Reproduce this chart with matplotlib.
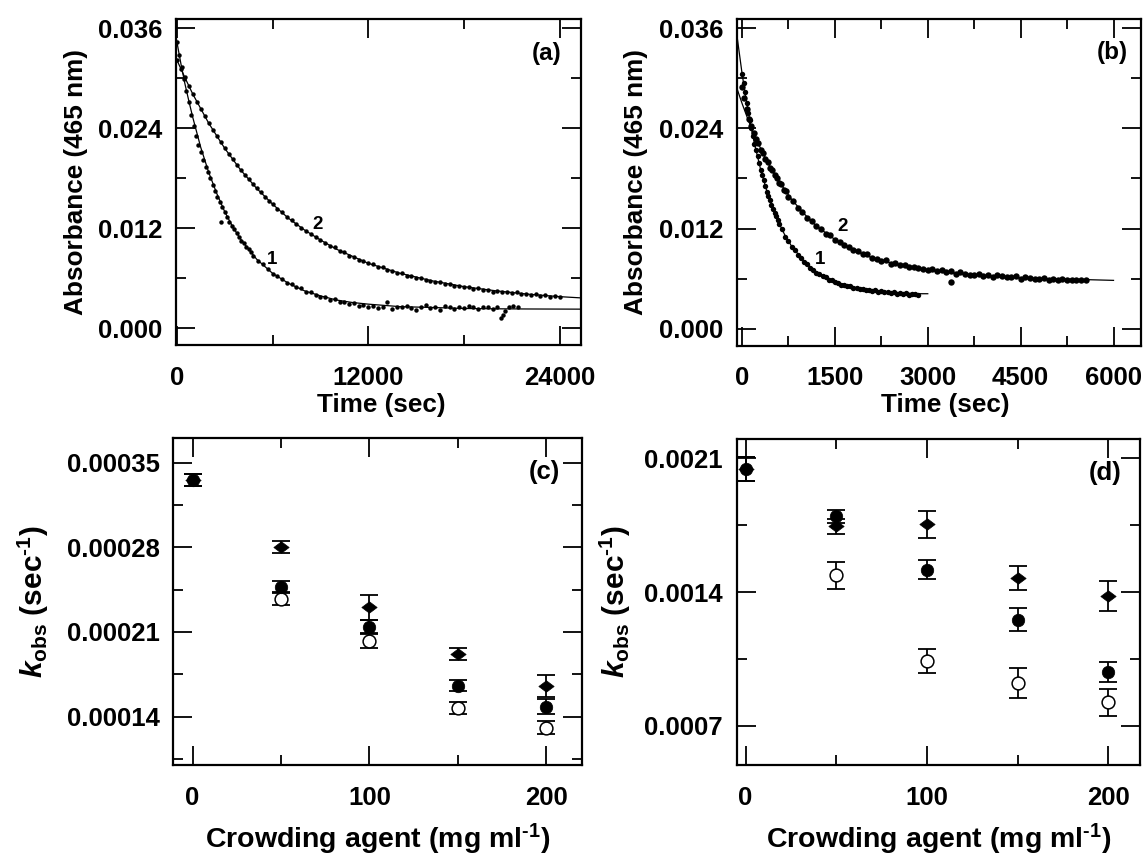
import numpy as np
import matplotlib
matplotlib.use("Agg")
import matplotlib.pyplot as plt
from matplotlib.ticker import FixedLocator, FixedFormatter
from matplotlib.path import Path

# ---------------- data ----------------
# Panel (a): absorbance decay traces (time s, absorbance) and fitted curves
a1_points = [(0, 0.0343), (150, 0.0328), (300, 0.0313), (450, 0.0299), (600, 0.0285),
             (750, 0.0271), (900, 0.0256), (1050, 0.0243), (1200, 0.0231), (1350, 0.0220),
             (1500, 0.0212), (1650, 0.0202), (1800, 0.0194), (1950, 0.0187), (2100, 0.0180),
             (2250, 0.0172), (2400, 0.0165), (2550, 0.0158), (2700, 0.0151), (2800, 0.0127),
             (2850, 0.0145), (3000, 0.0139), (3150, 0.0134), (3300, 0.0128), (3450, 0.0123),
             (3600, 0.0119), (3750, 0.0114), (3900, 0.0110), (4050, 0.0105), (4200, 0.0102),
             (4350, 0.0098), (4500, 0.0095), (4650, 0.0091), (4800, 0.0087), (5100, 0.0081),
             (5400, 0.0077), (5700, 0.0071), (6000, 0.0065), (6300, 0.0063), (6600, 0.0059),
             (6900, 0.0054), (7200, 0.0053), (7500, 0.0049), (7800, 0.0048), (8100, 0.0044),
             (8400, 0.0044), (8700, 0.0040), (9000, 0.0038), (9300, 0.0037), (9600, 0.0034),
             (9900, 0.0035), (10200, 0.0031), (10500, 0.0032), (10800, 0.0029), (11100, 0.0030),
             (11400, 0.0027), (11700, 0.0028), (12000, 0.0025), (12300, 0.0027), (12600, 0.0024),
             (12900, 0.0026), (13200, 0.0032), (13500, 0.0023), (13800, 0.0026), (14100, 0.0025),
             (14400, 0.0027), (14700, 0.0024), (15000, 0.0022), (15300, 0.0026), (15600, 0.0028),
             (15900, 0.0024), (16200, 0.0025), (16500, 0.0022), (16800, 0.0027), (17100, 0.0025),
             (17400, 0.0023), (17700, 0.0026), (18000, 0.0024), (18300, 0.0027), (18600, 0.0025),
             (18900, 0.0023), (19200, 0.0026), (19500, 0.0025), (19800, 0.0023), (20100, 0.0026),
             (20300, 0.0012), (20450, 0.0016), (20600, 0.0021), (20800, 0.0025), (21100, 0.0027),
             (21400, 0.0026)]
a2_points = [(0, 0.0322), (250, 0.0311), (500, 0.0301), (750, 0.0291), (1000, 0.0281),
             (1250, 0.0272), (1500, 0.0263), (1750, 0.0255), (2000, 0.0246), (2250, 0.0238),
             (2500, 0.0231), (2750, 0.0223), (3000, 0.0216), (3250, 0.0209), (3500, 0.0203),
             (3750, 0.0196), (4000, 0.0190), (4250, 0.0184), (4500, 0.0179), (4750, 0.0173),
             (5000, 0.0168), (5250, 0.0163), (5500, 0.0158), (5750, 0.0153), (6000, 0.0149),
             (6300, 0.0143), (6600, 0.0139), (6900, 0.0133), (7200, 0.0130), (7500, 0.0125),
             (7800, 0.0120), (8100, 0.0117), (8400, 0.0113), (8700, 0.0109), (9000, 0.0106),
             (9300, 0.0102), (9600, 0.0099), (9900, 0.0097), (10200, 0.0093), (10500, 0.0091),
             (10800, 0.0087), (11100, 0.0086), (11400, 0.0082), (11700, 0.0081), (12000, 0.0078),
             (12300, 0.0077), (12600, 0.0074), (12900, 0.0073), (13200, 0.0070), (13500, 0.0069),
             (13800, 0.0066), (14100, 0.0066), (14400, 0.0063), (14700, 0.0063), (15000, 0.0060),
             (15300, 0.0060), (15600, 0.0058), (15900, 0.0057), (16200, 0.0055), (16500, 0.0055),
             (16800, 0.0053), (17100, 0.0053), (17400, 0.0051), (17700, 0.0051), (18000, 0.0049),
             (18300, 0.0049), (18600, 0.0047), (18900, 0.0048), (19200, 0.0046), (19500, 0.0046),
             (19800, 0.0044), (20100, 0.0045), (20400, 0.0043), (20700, 0.0044), (21000, 0.0042),
             (21300, 0.0043), (21600, 0.0041), (21900, 0.0041), (22200, 0.0040), (22500, 0.0041),
             (22800, 0.0039), (23100, 0.0040), (23400, 0.0038), (23700, 0.0039), (24000, 0.0038)]
a1_fit = [(-70, 0.0352), (0, 0.0344), (250, 0.0318), (500, 0.0294), (750, 0.0273),
          (1000, 0.0253), (1500, 0.0217), (2000, 0.0187), (2500, 0.0162), (3000, 0.0140),
          (3500, 0.0122), (4000, 0.0107), (5000, 0.0083), (6000, 0.0066), (7000, 0.0054),
          (8000, 0.0045), (9000, 0.0039), (10000, 0.0034), (11000, 0.0031), (12000, 0.0029),
          (14000, 0.0026), (16000, 0.0025), (18000, 0.00238), (20000, 0.00234),
          (22000, 0.00232), (25340, 0.0023)]
a2_fit = [(-70, 0.0325), (0, 0.0322), (500, 0.0301), (1000, 0.0281), (2000, 0.0246),
          (3000, 0.0216), (4000, 0.0190), (5000, 0.0168), (6000, 0.0149), (7000, 0.0132),
          (8000, 0.0118), (9000, 0.0106), (10000, 0.0095), (12000, 0.0078), (14000, 0.0066),
          (16000, 0.0057), (18000, 0.0050), (20000, 0.0045), (22000, 0.0041), (24000, 0.0038),
          (25340, 0.00365)]

# Panel (b): faster traces
b1_points = [(0, 0.0305), (25, 0.0294), (50, 0.0283), (75, 0.0271), (100, 0.0259),
             (125, 0.0250), (150, 0.0241), (175, 0.0231), (200, 0.0221), (225, 0.0214),
             (250, 0.0207), (275, 0.0199), (300, 0.0190), (325, 0.0184), (350, 0.0178),
             (375, 0.0171), (400, 0.0164), (425, 0.0159), (450, 0.0154), (475, 0.0148),
             (500, 0.0143), (525, 0.0139), (550, 0.0135), (575, 0.0130), (600, 0.0125),
             (650, 0.0119), (700, 0.0110), (750, 0.0105), (800, 0.0098), (850, 0.0094),
             (900, 0.0088), (950, 0.0085), (1000, 0.0080), (1050, 0.0078), (1100, 0.0073),
             (1150, 0.0071), (1200, 0.0067), (1250, 0.0066), (1300, 0.0063), (1350, 0.0062),
             (1400, 0.0059), (1450, 0.0058), (1500, 0.0056), (1550, 0.0055), (1600, 0.0053),
             (1650, 0.0053), (1700, 0.0051), (1750, 0.0051), (1800, 0.0049), (1850, 0.0049),
             (1900, 0.0048), (1950, 0.0048), (2000, 0.0046), (2050, 0.0047), (2100, 0.0045),
             (2150, 0.0046), (2200, 0.0044), (2250, 0.0045), (2300, 0.0044), (2350, 0.0044),
             (2400, 0.0043), (2450, 0.0044), (2500, 0.0042), (2550, 0.0043), (2600, 0.0042),
             (2650, 0.0043), (2700, 0.0041), (2750, 0.0042), (2800, 0.0042), (2850, 0.0041)]
b2_points = [(0, 0.0290), (37, 0.0276), (75, 0.0263), (112, 0.0251), (150, 0.0243),
             (187, 0.0235), (225, 0.0227), (262, 0.0222), (300, 0.0214), (337, 0.0211),
             (375, 0.0203), (412, 0.0200), (450, 0.0193), (487, 0.0190), (525, 0.0184),
             (562, 0.0181), (600, 0.0175), (637, 0.0173), (675, 0.0166), (712, 0.0165),
             (750, 0.0158), (825, 0.0153), (900, 0.0145), (975, 0.0140), (1050, 0.0133),
             (1125, 0.0129), (1200, 0.0123), (1275, 0.0120), (1350, 0.0114), (1425, 0.0112),
             (1500, 0.0106), (1575, 0.0104), (1650, 0.0100), (1725, 0.0098), (1800, 0.0094),
             (1875, 0.0093), (1950, 0.0089), (2025, 0.0089), (2100, 0.0085), (2175, 0.0084),
             (2250, 0.0081), (2325, 0.0082), (2400, 0.0078), (2475, 0.0079), (2550, 0.0076),
             (2625, 0.0077), (2700, 0.0074), (2775, 0.0074), (2850, 0.0073), (2925, 0.0072),
             (3000, 0.0071), (3075, 0.0072), (3150, 0.0069), (3225, 0.0071), (3300, 0.0068),
             (3368, 0.0056), (3375, 0.0069), (3450, 0.0066), (3525, 0.0068), (3600, 0.0066),
             (3675, 0.0065), (3750, 0.0065), (3825, 0.0066), (3900, 0.0063), (3975, 0.0065),
             (4050, 0.0062), (4125, 0.0064), (4200, 0.0063), (4275, 0.0062), (4350, 0.0062),
             (4425, 0.0063), (4500, 0.0060), (4575, 0.0062), (4650, 0.0061), (4725, 0.0060),
             (4800, 0.0060), (4875, 0.0061), (4950, 0.0059), (5025, 0.0060), (5100, 0.0059),
             (5175, 0.0060), (5250, 0.0058), (5325, 0.0059), (5400, 0.0058), (5475, 0.0059),
             (5550, 0.0058)]
b1_fit = [(-78, 0.0349), (0, 0.0306), (50, 0.0282), (100, 0.0260), (150, 0.0240),
          (200, 0.0222), (300, 0.0191), (400, 0.0165), (500, 0.0144), (600, 0.0126),
          (700, 0.0111), (800, 0.0099), (1000, 0.0081), (1200, 0.0068), (1400, 0.0060),
          (1600, 0.0054), (1800, 0.0050), (2000, 0.0047), (2200, 0.0045), (2400, 0.0044),
          (2600, 0.0043), (2800, 0.0042), (3000, 0.0042)]
b2_fit = [(-78, 0.0287), (0, 0.0270), (100, 0.0250), (200, 0.0232), (300, 0.0216),
          (400, 0.0201), (500, 0.0188), (600, 0.0176), (800, 0.0155), (1000, 0.0138),
          (1200, 0.0123), (1500, 0.0107), (1800, 0.0094), (2100, 0.0085), (2500, 0.0077),
          (3000, 0.0070), (3500, 0.0066), (4000, 0.0063), (4500, 0.0061), (5000, 0.0060),
          (5500, 0.0059), (6000, 0.0058)]

# Panels (c) and (d): rate constants versus crowding agent concentration
crowd = [0, 50, 100, 150, 200]
crowd_open = [50, 100, 150, 200]

c_diamond = [0.0003357, 0.000280, 0.0002304, 0.0001915, 0.0001651]
c_diamond_err = [4.8e-6, 4.8e-6, 1.05e-5, 4.8e-6, 9.3e-6]
c_filled = [0.0003357, 0.0002475, 0.0002139, 0.0001656, 0.0001483]
c_filled_err = [4.8e-6, 4.5e-6, 6.0e-6, 4.8e-6, 6.2e-6]
c_open = [0.0002373, 0.0002028, 0.0001472, 0.0001309]
c_open_err = [4.8e-6, 6.0e-6, 4.8e-6, 5.1e-6]

d_diamond = [0.002043, 0.001743, 0.001755, 0.001473, 0.001378]
d_diamond_err = [0.0000636, 0.000040, 0.0000705, 0.000061, 0.0000792]
d_filled = [0.002043, 0.001795, 0.001517, 0.001256, 0.000982]
d_filled_err = [0.0000636, 0.0000348, 0.0000496, 0.000060, 0.0000505]
d_open = [0.001487, 0.001038, 0.000925, 0.000824]
d_open_err = [0.0000705, 0.0000618, 0.0000792, 0.0000714]

# Tick positions and labels
a_yticks = [0.0, 0.012, 0.024, 0.036]
a_yticklabels = ["0.000", "0.012", "0.024", "0.036"]
a_yminor = [0.006, 0.018, 0.030]
a_xticks = [0, 12000, 24000]
a_xticklabels = ["0", "12000", "24000"]
a_xminor = [6000, 18000]
b_xticks = [0, 1500, 3000, 4500, 6000]
b_xticklabels = ["0", "1500", "3000", "4500", "6000"]
b_xminor = [750, 2250, 3750, 5250]
c_yticks = [0.00014, 0.00021, 0.00028, 0.00035]
c_yticklabels = ["0.00014", "0.00021", "0.00028", "0.00035"]
c_yminor = [0.000105, 0.000175, 0.000245, 0.000315]
d_yticks = [0.0007, 0.0014, 0.0021]
d_yticklabels = ["0.0007", "0.0014", "0.0021"]
d_yminor = [0.00105, 0.00175]
cd_xticks = [0, 100, 200]
cd_xticklabels = ["0", "100", "200"]
cd_xminor = [50, 150]

# ---------------- style ----------------
plt.rcParams['font.family'] = ['Liberation Sans', 'DejaVu Sans']
plt.rcParams['font.weight'] = 'bold'
plt.rcParams['mathtext.fontset'] = 'custom'
plt.rcParams['mathtext.rm'] = 'Liberation Sans:bold'
plt.rcParams['mathtext.it'] = 'Liberation Sans:bold:italic'
plt.rcParams['mathtext.bf'] = 'Liberation Sans:bold'

W, H = 1144, 856
fig = plt.figure(figsize=(W / 100, H / 100), dpi=100)


def px_axes(left, right, top, bottom):
    return fig.add_axes([left / W, 1 - bottom / H, (right - left) / W, (bottom - top) / H])


def frame(ax, xlim, ylim, xt, xtl, xm, yt, ytl, ym):
    ax.set_xlim(*xlim)
    ax.set_ylim(*ylim)
    ax.xaxis.set_major_locator(FixedLocator(xt))
    ax.xaxis.set_major_formatter(FixedFormatter(xtl))
    ax.xaxis.set_minor_locator(FixedLocator(xm))
    ax.yaxis.set_major_locator(FixedLocator(yt))
    ax.yaxis.set_major_formatter(FixedFormatter(ytl))
    ax.yaxis.set_minor_locator(FixedLocator(ym))
    ax.tick_params(which='both', direction='in', top=True, right=True,
                   width=1.3, color='black')
    ax.tick_params(which='major', length=14)
    ax.tick_params(which='minor', length=7)
    ax.tick_params(axis='x', which='major', pad=15, labelsize=18.5)
    ax.tick_params(axis='y', which='major', pad=9.8, labelsize=18.5)
    for s in ax.spines.values():
        s.set_linewidth(1.6)


def fig_text(x, y, s, **kw):
    fig.text(x / W, 1 - y / H, s, **kw)


def unzip(points):
    return [p[0] for p in points], [p[1] for p in points]


diamond = Path([(-1, 0), (0, 0.75), (1, 0), (0, -0.75), (-1, 0)],
               [Path.MOVETO, Path.LINETO, Path.LINETO, Path.LINETO, Path.CLOSEPOLY])

# ---------------- panel (a) ----------------
ax_a = px_axes(175.7, 581, 19, 345)
for fit in (a1_fit, a2_fit):
    t, A = unzip(fit)
    ax_a.plot(t, A, color='black', lw=0.9)
for pts in (a1_points, a2_points):
    t, A = unzip(pts)
    ax_a.plot(t, A, 'o', color='black', ms=3.2, mew=0)
frame(ax_a, (-70, 25340), (-0.002, 0.0371), a_xticks, a_xticklabels, a_xminor,
      a_yticks, a_yticklabels, a_yminor)
ax_a.text(8810, 0.0124, "2", fontsize=13.5, ha='center', va='center')
ax_a.text(5966, 0.00828, "1", fontsize=13.5, ha='center', va='center')
ax_a.text(0.953, 0.893, "(a)", transform=ax_a.transAxes, ha='right', va='center', fontsize=17.5)

# ---------------- panel (b) ----------------
ax_b = px_axes(737.2, 1141, 19, 345.5)
for fit in (b1_fit, b2_fit):
    t, A = unzip(fit)
    ax_b.plot(t, A, color='black', lw=0.9)
t, A = unzip(b1_points)
ax_b.plot(t, A, 'o', color='black', ms=3.9, mew=0)
t, A = unzip(b2_points)
ax_b.plot(t, A, 'o', color='black', ms=4.6, mew=0)
frame(ax_b, (-78, 6444), (-0.002, 0.0371), b_xticks, b_xticklabels, b_xminor,
      a_yticks, a_yticklabels, a_yminor)
ax_b.text(1624, 0.0122, "2", fontsize=13.5, ha='center', va='center')
ax_b.text(1264, 0.00828, "1", fontsize=13.5, ha='center', va='center')
ax_b.text(0.968, 0.897, "(b)", transform=ax_b.transAxes, ha='right', va='center', fontsize=17.5)


def rate_panel(ax, dia, dia_e, fil, fil_e, opn, opn_e):
    eb = dict(fmt='none', ecolor='black', elinewidth=1.3, capsize=6.8, capthick=1.3, zorder=2)
    ax.errorbar(crowd_open, opn, yerr=opn_e, **eb)
    ax.errorbar(crowd, dia, yerr=dia_e, **eb)
    ax.errorbar(crowd, fil, yerr=fil_e, **eb)
    ax.plot(crowd_open, opn, 'o', ms=9.2, mfc='white', mec='black', mew=1.1, zorder=3)
    ax.plot(crowd, dia, marker=diamond, ls='none', ms=11, mfc='black', mec='black',
            mew=0.5, zorder=4)
    ax.plot(crowd, fil, 'o', ms=9.0, mfc='black', mec='black', mew=0.5, zorder=5)


# ---------------- panel (c) ----------------
ax_c = px_axes(173.3, 582, 438.3, 765)
rate_panel(ax_c, c_diamond, c_diamond_err, c_filled, c_filled_err, c_open, c_open_err)
frame(ax_c, (-10.9, 220.2), (0.0001, 0.00037), cd_xticks, cd_xticklabels, cd_xminor,
      c_yticks, c_yticklabels, c_yminor)
ax_c.text(0.946, 0.898, "(c)", transform=ax_c.transAxes, ha='right', va='center', fontsize=18.5)

# ---------------- panel (d) ----------------
ax_d = px_axes(736.5, 1140, 439, 765)
rate_panel(ax_d, d_diamond, d_diamond_err, d_filled, d_filled_err, d_open, d_open_err)
frame(ax_d, (-5, 217.5), (0.000496, 0.0022), cd_xticks, cd_xticklabels, cd_xminor,
      d_yticks, d_yticklabels, d_yminor)
ax_d.text(0.955, 0.897, "(d)", transform=ax_d.transAxes, ha='right', va='center', fontsize=18.5)

# ---------------- axis titles ----------------
absorb = "Absorbance (465 nm)"
fig_text(76, 182.5, absorb, rotation=90, ha='center', va='center', fontsize=18.8)
fig_text(636, 182.5, absorb, rotation=90, ha='center', va='center', fontsize=18.8)
fig_text(381, 405, "Time (sec)", ha='center', va='center', fontsize=18.8)
fig_text(945, 405, "Time (sec)", ha='center', va='center', fontsize=18.8)

kobs = r"$\mathit{k}_{\mathrm{obs}}$ (sec$^{\text{-1}}$)"
fig_text(33.5, 602, kobs, rotation=90, ha='center', va='center', fontsize=21.5)
fig_text(615, 602, kobs, rotation=90, ha='center', va='center', fontsize=21.5)
crowd_label = r"Crowding agent (mg ml$^{\text{-1}}$)"
fig_text(377.5, 848, crowd_label, ha='center', va='baseline', fontsize=20.5)
fig_text(938.5, 848, crowd_label, ha='center', va='baseline', fontsize=20.5)

fig.savefig("out.png", dpi=100)
